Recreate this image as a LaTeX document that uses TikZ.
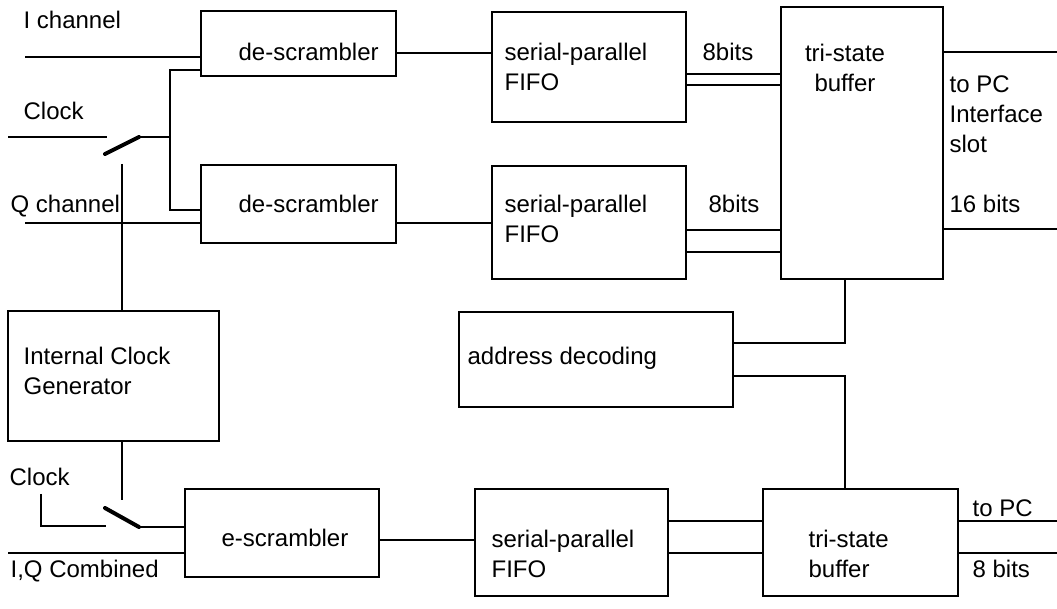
\documentclass[tikz,border=0pt]{standalone}
\usepackage{fontspec}
\setmainfont{Liberation Sans}
\usetikzlibrary{fit}
\begin{document}
\begin{tikzpicture}[x=0.75pt, y=-0.75pt, line width=0.9pt,
  every node/.style={font=\fontsize{18}{22.5}\selectfont},
  blk/.style={draw, inner sep=0pt},
  lbl/.style={anchor=base west, inner sep=0pt, align=left},
  blade/.style={line width=3pt, line cap=round}]

\useasboundingbox (0,0) rectangle (1057,609);

% blocks
\node [blk, fit={(201,11) (396,76)}] (v1) {};
\node [blk, fit={(201,165) (396,243)}] (v2) {};
\node [blk, fit={(492,12) (686,122)}] (v3) {};
\node [blk, fit={(492,166) (686,279)}] (v4) {};
\node [blk, fit={(781,7) (943,279)}] (v5) {};
\node [blk, fit={(8,311) (219,441)}] (v6) {};
\node [blk, fit={(459,312) (733,407)}] (v7) {};
\node [blk, fit={(185,489) (379,577)}] (v8) {};
\node [blk, fit={(475,489) (668,596)}] (v9) {};
\node [blk, fit={(763,489) (958,596)}] (v10) {};

% texts (base = last line)
\node [lbl] (t1) at (23,29) {I channel};
\node [lbl] (t2) at (23,120) {Clock};
\node [lbl] (t3) at (10,213) {Q channel};
\node [lbl] (t4) at (238,61) {de-scrambler};
\node [lbl] (t5) at (238,213) {de-scrambler};
\node [lbl] (t6) at (504,91) {serial-parallel\\FIFO};
\node [lbl] (t7) at (504,243) {serial-parallel\\FIFO};
\node [lbl] (t8) at (702,61) {8bits};
\node [lbl] (t9) at (708,213) {8bits};
\node [lbl, anchor=base, align=center] (t10) at (845,92) {tri-state\\buffer};
\node [lbl] (t11) at (949,153) {to PC\\Interface\\slot};
\node [lbl] (t12) at (949,213) {16 bits};
\node [lbl] (t13) at (23,395) {Internal Clock\\Generator};
\node [lbl] (t14) at (467,365) {address decoding};
\node [lbl] (t15) at (9,486) {Clock};
\node [lbl] (t16) at (10,577) {I,Q Combined};
\node [lbl] (t17) at (221,546) {e-scrambler};
\node [lbl] (t18) at (491,577) {serial-parallel\\FIFO};
\node [lbl] (t19) at (808,577) {tri-state\\buffer};
\node [lbl] (t20) at (972,517) {to PC};
\node [lbl] (t21) at (972,577) {8 bits};

% loose ends and switches
\coordinate (c1) at (25,57);
\coordinate (c2) at (8,137);
\coordinate (c3) at (107,137);
\coordinate (c6) at (25,223);
\coordinate (c7) at (122,164);
\coordinate (c8) at (122,500);
\coordinate (c9) at (41,494);
\coordinate (c10) at (106,526);
\coordinate (c11) at (8,553);
\coordinate (j1) at (170,70);
\coordinate (j2) at (170,210);
\coordinate (s1) at (105,154);
\coordinate (s2) at (139,137);
\coordinate (s3) at (105,508);
\coordinate (s4) at (139,527);
\coordinate (o1) at (1057,52);
\coordinate (o2) at (1057,229);
\coordinate (o3) at (1057,521);
\coordinate (o4) at (1057,553);

% inputs
\draw (c1) -- (v1.west |- c1);
\draw (c6) -- (v2.west |- c6);
\draw (c2) -- (c3);
\draw [blade] (s1) -- (s2);
\draw (s2) -- (s2 -| j1);
\draw (v1.west |- j1) -- (j1) -- (j2) -- (v2.west |- j2);
\draw (c7) -- (c7 |- v6.north);

% upper path
\draw (v1.east |- 0,53) -- (v3.west |- 0,53);
\draw (v2.east |- 0,223) -- (v4.west |- 0,223);
\draw (v3.east |- 0,74) -- (v5.west |- 0,74);
\draw (v3.east |- 0,85) -- (v5.west |- 0,85);
\draw (v4.east |- 0,230) -- (v5.west |- 0,230);
\draw (v4.east |- 0,252) -- (v5.west |- 0,252);
\draw (v5.east |- o1) -- (o1);
\draw (v5.east |- o2) -- (o2);

% address decoding
\draw (v5.south -| 845,0) |- (v7.east |- 0,343);
\draw (v7.east |- 0,376) -| (v10.north -| 845,0);

% lower path
\draw (v6.south -| c8) -- (c8);
\draw (c9) |- (c10);
\draw [blade] (s3) -- (s4);
\draw (s4) -- (v8.west |- s4);
\draw (c11) -- (v8.west |- c11);
\draw (v8.east |- 0,540) -- (v9.west |- 0,540);
\draw (v9.east |- 0,521) -- (v10.west |- 0,521);
\draw (v9.east |- 0,553) -- (v10.west |- 0,553);
\draw (v10.east |- o3) -- (o3);
\draw (v10.east |- o4) -- (o4);
\end{tikzpicture}
\end{document}
